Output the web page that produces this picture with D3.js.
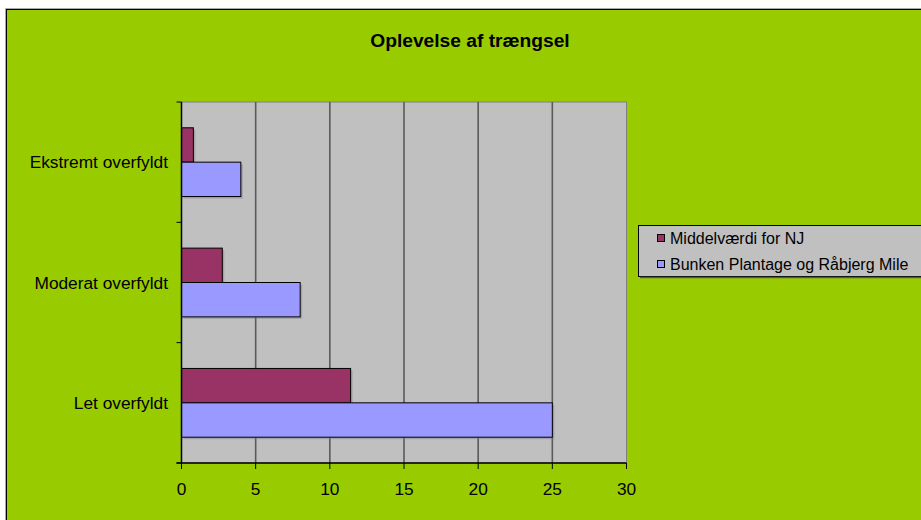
<!DOCTYPE html>
<html><head><meta charset="utf-8">
<script src="https://cdn.jsdelivr.net/npm/d3@7"></script>
<style>body{margin:0;background:#fff}svg{display:block}text{font-family:"Liberation Sans",Arial,sans-serif}</style>
</head><body>
<svg id="c" width="921" height="520"></svg>
<script>
const title = "Oplevelse af trængsel";
const categories = ["Ekstremt overfyldt", "Moderat overfyldt", "Let overfyldt"];
const seriesNames = ["Middelværdi for NJ", "Bunken Plantage og Råbjerg Mile"];
const middelvaerdi = [0.8, 2.75, 11.4];
const bunken = [4, 8, 25];
const xTicks = [0, 5, 10, 15, 20, 25, 30];
const colors = ["#993366", "#9999FF"];

const svg = d3.select("#c");
// chart area
svg.append("rect").attr("x", 6.5).attr("y", 9.5).attr("width", 930).attr("height", 530)
  .attr("fill", "#99CC00").attr("stroke", "#000").attr("stroke-width", 1);
svg.append("line").attr("x1", 5.5).attr("y1", 8.5).attr("x2", 921).attr("y2", 8.5).attr("stroke", "#aaa");
svg.append("line").attr("x1", 5.5).attr("y1", 8.5).attr("x2", 5.5).attr("y2", 520).attr("stroke", "#aaa");

const L = 181.5, T = 102, W = 445, H = 361;
const x = d3.scaleLinear().domain([0, 30]).range([L, L + W]);
const y = d3.scaleBand().domain(categories).range([T, T + H]).padding(0);
const yi = d3.scaleBand().domain(seriesNames).range([0, y.bandwidth()]).paddingInner(0).paddingOuter(0.75);

// title
svg.append("text").attr("x", 470).attr("y", 47).attr("text-anchor", "middle")
  .attr("font-size", 19.2).attr("font-weight", "bold").text(title);

// plot area
svg.append("rect").attr("x", L).attr("y", T).attr("width", W).attr("height", H)
  .attr("fill", "#C0C0C0").attr("stroke", "#808080").attr("stroke-width", 1);

// gridlines
svg.append("g").selectAll("line").data(xTicks.slice(1, -1)).join("line")
  .attr("x1", d => x(d)).attr("x2", d => x(d)).attr("y1", T).attr("y2", T + H)
  .attr("stroke", "#5a5a5a").attr("stroke-width", 1.6);

// bars
const data = [];
categories.forEach((c, i) => {
  data.push({cat: c, s: seriesNames[0], v: middelvaerdi[i], col: colors[0]});
  data.push({cat: c, s: seriesNames[1], v: bunken[i], col: colors[1]});
});
svg.append("g").selectAll("rect").data(data).join("rect")
  .attr("x", x(0) + 2).attr("y", d => y(d.cat) + yi(d.s) + 2)
  .attr("width", d => x(d.v) - x(0)).attr("height", yi.bandwidth())
  .attr("fill", "#808080").attr("opacity", 0.45);
svg.append("g").selectAll("rect").data(data).join("rect")
  .attr("x", x(0)).attr("y", d => y(d.cat) + yi(d.s))
  .attr("width", d => x(d.v) - x(0)).attr("height", yi.bandwidth())
  .attr("fill", d => d.col).attr("stroke", "#000").attr("stroke-width", 1);

// axes
svg.append("line").attr("x1", L).attr("x2", L).attr("y1", T).attr("y2", T + H).attr("stroke", "#000").attr("stroke-width", 1.5);
svg.append("line").attr("x1", L - 5).attr("x2", L + W).attr("y1", T + H).attr("y2", T + H).attr("stroke", "#000").attr("stroke-width", 1.5);
const bounds = categories.map(c => y(c)).concat([T + H]);
svg.append("g").selectAll("line").data(bounds).join("line")
  .attr("x1", L - 5).attr("x2", L).attr("y1", d => d).attr("y2", d => d).attr("stroke", "#000");
svg.append("g").selectAll("line").data(xTicks).join("line")
  .attr("x1", d => x(d)).attr("x2", d => x(d)).attr("y1", T + H).attr("y2", T + H + 6).attr("stroke", "#000");
svg.append("g").selectAll("text").data(xTicks).join("text")
  .attr("x", d => x(d)).attr("y", 495).attr("text-anchor", "middle").attr("font-size", 17.3).text(d => d);
svg.append("g").selectAll("text").data(categories).join("text")
  .attr("x", 168).attr("y", d => y(d) + y.bandwidth() / 2 + 6).attr("text-anchor", "end")
  .attr("font-size", 17.3).text(d => d);

// legend
const lg = svg.append("g");
lg.append("rect").attr("x", 638.5).attr("y", 225.5).attr("width", 300).attr("height", 51)
  .attr("fill", "#C0C0C0").attr("stroke", "#000").attr("stroke-width", 1);
lg.append("line").attr("x1", 640).attr("x2", 921).attr("y1", 277.5).attr("y2", 277.5).attr("stroke", "#555").attr("stroke-width", 1.5);
seriesNames.forEach((s, i) => {
  const cy = 238 + i * 26;
  lg.append("rect").attr("x", 657.5).attr("y", cy - 3.5).attr("width", 7).attr("height", 7)
    .attr("fill", colors[i]).attr("stroke", "#000");
  lg.append("text").attr("x", 670).attr("y", cy + 5.5).attr("font-size", 16).text(s);
});
</script>
</body></html>
